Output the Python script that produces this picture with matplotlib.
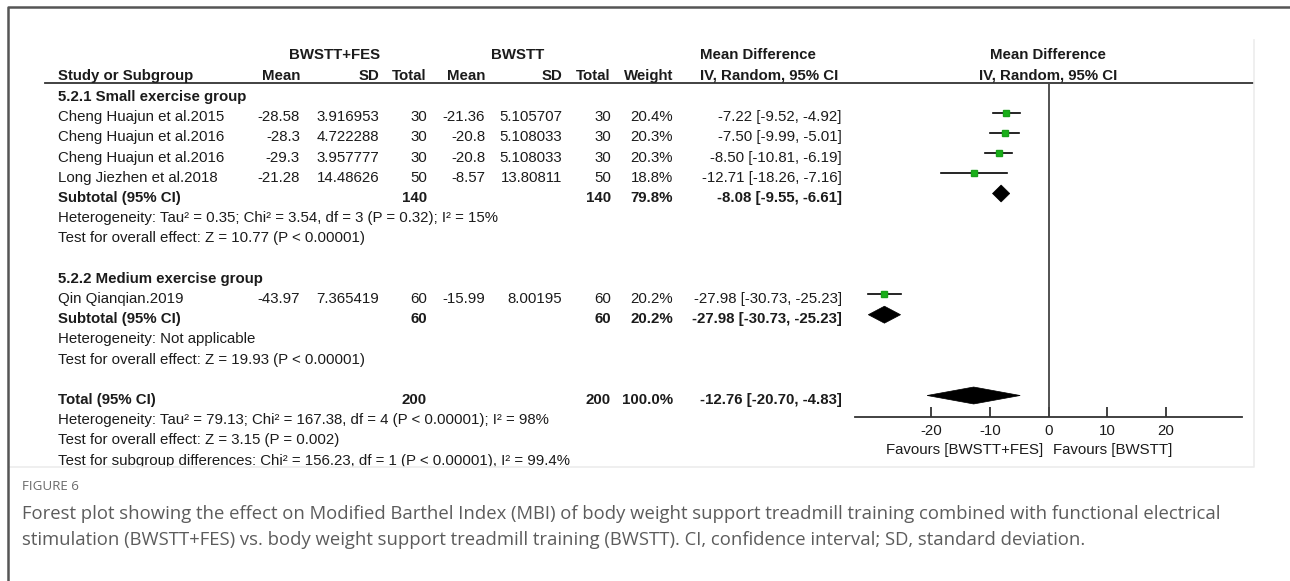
import matplotlib
matplotlib.use("Agg")
import matplotlib.pyplot as plt
from matplotlib.patches import Polygon, Rectangle

plt.rcParams["axes.unicode_minus"] = False

# ---- data ----
studies = ["Cheng Huajun et al.2015", "Cheng Huajun et al.2016", "Cheng Huajun et al.2016",
           "Long Jiezhen et al.2018", "Qin Qianqian.2019"]
study_group = [0, 0, 0, 0, 1]
fes_mean = [-28.58, -28.3, -29.3, -21.28, -43.97]
fes_sd = [3.916953, 4.722288, 3.957777, 14.48626, 7.365419]
fes_n = [30, 30, 30, 50, 60]
ctl_mean = [-21.36, -20.8, -20.8, -8.57, -15.99]
ctl_sd = [5.105707, 5.108033, 5.108033, 13.80811, 8.00195]
ctl_n = [30, 30, 30, 50, 60]
weight = [20.4, 20.3, 20.3, 18.8, 20.2]
md = [-7.22, -7.50, -8.50, -12.71, -27.98]
md_lo = [-9.52, -9.99, -10.81, -18.26, -30.73]
md_hi = [-4.92, -5.01, -6.19, -7.16, -25.23]

group_names = ["5.2.1 Small exercise group", "5.2.2 Medium exercise group"]
sub_fes_n = [140, 60]
sub_ctl_n = [140, 60]
sub_weight = [79.8, 20.2]
sub_md = [-8.08, -27.98]
sub_lo = [-9.55, -30.73]
sub_hi = [-6.61, -25.23]
sub_het = ["Heterogeneity: Tau\u00b2 = 0.35; Chi\u00b2 = 3.54, df = 3 (P = 0.32); I\u00b2 = 15%",
           "Heterogeneity: Not applicable"]
sub_test = ["Test for overall effect: Z = 10.77 (P < 0.00001)",
            "Test for overall effect: Z = 19.93 (P < 0.00001)"]

tot_fes_n, tot_ctl_n, tot_weight = 200, 200, 100.0
tot_md, tot_lo, tot_hi = -12.76, -20.70, -4.83
tot_notes = ["Heterogeneity: Tau\u00b2 = 79.13; Chi\u00b2 = 167.38, df = 4 (P < 0.00001); I\u00b2 = 98%",
             "Test for overall effect: Z = 3.15 (P = 0.002)",
             "Test for subgroup differences: Chi\u00b2 = 156.23, df = 1 (P < 0.00001), I\u00b2 = 99.4%"]

x_ticks = [-20, -10, 0, 10, 20]
favour_left = "Favours [BWSTT+FES]"
favour_right = "Favours [BWSTT]"

caption_label = "FIGURE 6"
caption_lines = [
    "Forest plot showing the effect on Modified Barthel Index (MBI) of body weight support treadmill training combined with functional electrical",
    "stimulation (BWSTT+FES) vs. body weight support treadmill training (BWSTT). CI, confidence interval; SD, standard deviation.",
]

# ---- figure ----
W, H = 1290, 581
DPI = 100
fig = plt.figure(figsize=(W / DPI, H / DPI), dpi=DPI)
fig.patch.set_facecolor("white")

# pixel-space overlay for the table text
ax = fig.add_axes([0, 0, 1, 1])
ax.set_xlim(0, W)
ax.set_ylim(H, 0)
ax.axis("off")

TXT = "#1b1b1b"
FONT = "Liberation Sans"
FS = 10.8


def t(x, y, s, ha="left", bold=False, size=FS, color=TXT, **kw):
    ax.text(x, y, s, ha=ha, va="center", fontsize=size, family=FONT,
            fontweight="bold" if bold else "normal", color=color, **kw)


ROW0, DY = 97.0, 20.2


def row_y(k):
    return ROW0 + DY * k


# column right edges
X_NAME = 58
X_FM, X_FS, X_FN = 300, 379, 427
X_CM, X_CS, X_CN = 485, 562, 611
X_W, X_CI = 673, 842

# headers
t(335, 55, "BWSTT+FES", ha="center", bold=True)
t(518, 55, "BWSTT", ha="center", bold=True)
t(700, 55, "Mean Difference", bold=True)
t(1048, 55, "Mean Difference", ha="center", bold=True)
t(X_NAME, 76, "Study or Subgroup", bold=True)
for x, s in [(X_FM, "Mean"), (X_FS, "SD"), (X_FN, "Total"), (X_CM, "Mean"),
             (X_CS, "SD"), (X_CN, "Total"), (X_W, "Weight")]:
    t(x, 76, s, ha="right", bold=True)
t(700, 76, "IV, Random, 95% CI", bold=True)
t(1048, 76, "IV, Random, 95% CI", ha="center", bold=True)
ax.plot([45, 1253], [82.5, 82.5], color="#333333", lw=1.3)


def ci_text(m, lo, hi):
    return f"{m:.2f} [{lo:.2f}, {hi:.2f}]"


# forest axes: x in mean-difference units, y in row units
FX0, FX1 = 855, 1242
FY0, FY1 = 82.5, 417
XL = (-33, 33)
MARK_OFF = -4.5  # marker rows sit slightly above the text centre
fx = fig.add_axes([FX0 / W, 1 - FY1 / H, (FX1 - FX0) / W, (FY1 - FY0) / H])
fx.set_xlim(*XL)
fx.set_ylim((FY1 - ROW0 - MARK_OFF) / DY, (FY0 - ROW0 - MARK_OFF) / DY)
fx.patch.set_alpha(0)
for s in ["top", "left", "right"]:
    fx.spines[s].set_visible(False)
fx.spines["bottom"].set_color("#333333")
fx.spines["bottom"].set_linewidth(1.3)
fx.set_yticks([])
fx.set_xticks(x_ticks)
fx.set_xticklabels([str(v) for v in x_ticks], family=FONT, fontsize=FS, color=TXT)
fx.tick_params(axis="x", direction="in", length=7, width=1.3, color="#333333", pad=5)
fx.axvline(0, color="#444444", lw=1.3)


def diamond(k, m, lo, hi):
    h = 0.42
    fx.add_patch(Polygon([[lo, k], [m, k - h], [hi, k], [m, k + h]], closed=True,
                         facecolor="black", edgecolor="black", lw=0.5))


k = 0
si = 0
for g, gname in enumerate(group_names):
    t(X_NAME, row_y(k), gname, bold=True)
    k += 1
    while si < len(studies) and study_group[si] == g:
        y = row_y(k)
        t(X_NAME, y, studies[si])
        t(X_FM, y, str(fes_mean[si]), ha="right")
        t(X_FS, y, str(fes_sd[si]), ha="right")
        t(X_FN, y, str(fes_n[si]), ha="right")
        t(X_CM, y, str(ctl_mean[si]), ha="right")
        t(X_CS, y, str(ctl_sd[si]), ha="right")
        t(X_CN, y, str(ctl_n[si]), ha="right")
        t(X_W, y, f"{weight[si]:.1f}%", ha="right")
        t(X_CI, y, ci_text(md[si], md_lo[si], md_hi[si]), ha="right")
        fx.plot([md_lo[si], md_hi[si]], [k, k], color="black", lw=1.2, zorder=2)
        fx.plot([md[si]], [k], marker="s", ms=4.6 * (weight[si] / 20.3) ** 0.5,
                color="#18b018", mec="#18a018", zorder=3)
        k += 1
        si += 1
    y = row_y(k)
    t(X_NAME, y, "Subtotal (95% CI)", bold=True)
    t(X_FN, y, str(sub_fes_n[g]), ha="right", bold=True)
    t(X_CN, y, str(sub_ctl_n[g]), ha="right", bold=True)
    t(X_W, y, f"{sub_weight[g]:.1f}%", ha="right", bold=True)
    t(X_CI, y, ci_text(sub_md[g], sub_lo[g], sub_hi[g]), ha="right", bold=True)
    diamond(k, sub_md[g], sub_lo[g], sub_hi[g])
    k += 1
    t(X_NAME, row_y(k), sub_het[g])
    k += 1
    t(X_NAME, row_y(k), sub_test[g])
    k += 2

y = row_y(k)
t(X_NAME, y, "Total (95% CI)", bold=True)
t(X_FN, y, str(tot_fes_n), ha="right", bold=True)
t(X_CN, y, str(tot_ctl_n), ha="right", bold=True)
t(X_W, y, f"{tot_weight:.1f}%", ha="right", bold=True)
t(X_CI, y, ci_text(tot_md, tot_lo, tot_hi), ha="right", bold=True)
diamond(k, tot_md, tot_lo, tot_hi)
k += 1
for note in tot_notes:
    t(X_NAME, row_y(k), note)
    k += 1

t(1043, 450, favour_left, ha="right")
t(1053, 450, favour_right)

# lower edge of the plot panel (text below it is cut off)
ax.add_patch(Rectangle((10, 466.5), 1245, 10, facecolor="white", edgecolor="none", zorder=5))
ax.plot([10, 1253.5, 1253.5], [466.5, 466.5, 40], color="#ececec", lw=1.2, zorder=6)

# outer frame
ax.plot([1290, 8, 8], [7, 7, 581], color="#555555", lw=1.8, zorder=7)

# caption
ax.text(22, 487, caption_label, ha="left", va="center", fontsize=9.6, family="Open Sans",
        color="#6a6a6a")
for i, line in enumerate(caption_lines):
    ax.text(22, 514 + 26 * i, line, ha="left", va="center", fontsize=13.3,
            family="Open Sans", color="#5c5c5c")

fig.savefig("out.png", dpi=DPI, facecolor="white")
